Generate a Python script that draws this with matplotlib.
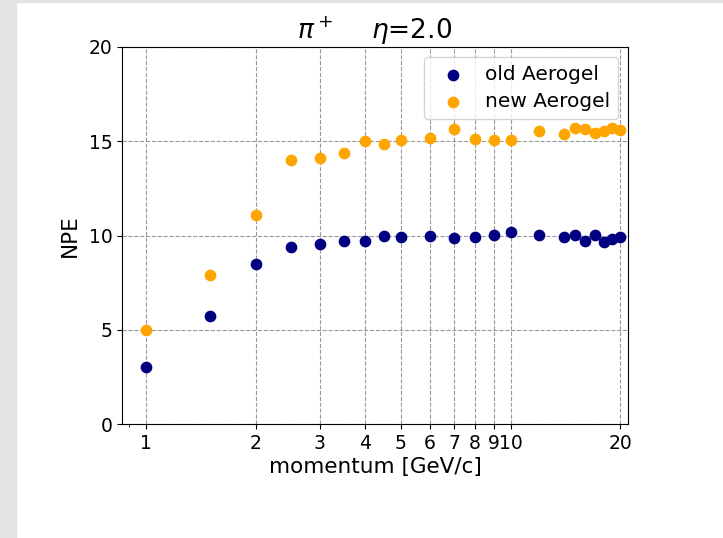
import matplotlib.pyplot as plt
from matplotlib.patches import Rectangle

# momentum points [GeV/c]
momentum = [1, 1.5, 2, 2.5, 3, 3.5, 4, 4.5, 5, 6, 7, 8, 9, 10,
            12, 14, 15, 16, 17, 18, 19, 20]

# NPE
npe_old = [3.0, 5.74, 8.49, 9.38, 9.56, 9.73, 9.73, 10.0, 9.91, 9.96, 9.86,
           9.93, 10.05, 10.21, 10.05, 9.91, 10.05, 9.73, 10.05, 9.66, 9.84, 9.91]
npe_new = [5.0, 7.93, 11.09, 14.02, 14.11, 14.38, 15.0, 14.84, 15.09, 15.18,
           15.64, 15.14, 15.09, 15.04, 15.53, 15.41, 15.71, 15.66, 15.44,
           15.55, 15.69, 15.59]

xticks = [1, 2, 3, 4, 5, 6, 7, 8, 9, 10, 20]
xtick_labels = ['1', '2', '3', '4', '5', '6', '7', '8', '9', '10', '20']

fig = plt.figure(figsize=(7.23, 5.38), dpi=100)
# light gray strip on the left / top like the screenshot
fig.patches.append(Rectangle((0, 0), 16 / 723, 1, transform=fig.transFigure,
                             color='#e3e3e3', zorder=-1))
fig.patches.append(Rectangle((0, 1 - 2 / 538), 1, 2 / 538, transform=fig.transFigure,
                             color='#e3e3e3', zorder=-1))

ax = fig.add_axes([122 / 723, 1 - 424 / 538, 506 / 723, 377 / 538])
ax.scatter(momentum, npe_old, color='navy', s=55, label='old Aerogel', zorder=3)
ax.scatter(momentum, npe_new, color='orange', s=55, label='new Aerogel', zorder=3)

ax.set_xscale('log')
ax.set_xlim(0.86, 21)
ax.set_ylim(0, 20)
ax.set_xticks(xticks)
ax.set_xticklabels(xtick_labels)
ax.set_yticks([0, 5, 10, 15, 20])

ax.tick_params(labelsize=13.5)
ax.grid(True, which='major', linestyle='--', color='gray', alpha=0.8, linewidth=0.8)

ax.set_xlabel('momentum [GeV/c]', fontsize=15.5, labelpad=3)
ax.set_ylabel('NPE', fontsize=15.5, labelpad=6)
ax.set_title(r'$\pi^+$    $\eta$=2.0', fontsize=19)
ax.legend(loc='upper right', fontsize=14.5, borderaxespad=0.5,
          handletextpad=0.6, labelspacing=0.4)

fig.savefig('out.png', dpi=100)
